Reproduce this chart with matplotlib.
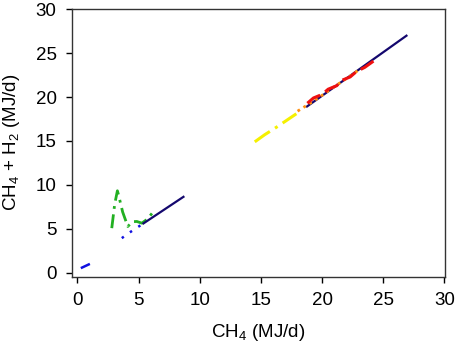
import matplotlib
matplotlib.use("Agg")
from matplotlib import pyplot as plt

plt.rcParams["font.family"] = ["Liberation Sans", "DejaVu Sans"]
plt.rcParams["font.size"] = 13.5
plt.rcParams["mathtext.fontset"] = "custom"
plt.rcParams["mathtext.rm"] = "Liberation Sans"
plt.rcParams["mathtext.default"] = "regular"

# series (CH4, CH4+H2), MJ/d
blue_dash_x = [0.28, 1.26]
blue_dash_y = [0.50, 1.14]

blue_dot_x = [3.63, 4.2, 4.8, 5.4]
blue_dot_y = [3.92, 4.5, 5.05, 5.6]

navy_low_x = [5.4, 8.67]
navy_low_y = [5.6, 8.63]

green_x = [2.81, 3.05, 3.27, 3.36, 3.7, 4.12, 4.5, 4.86, 5.27, 5.73, 6.22, 6.4]
green_y = [5.06, 7.8, 9.32, 8.86, 6.9, 5.25, 5.8, 5.82, 5.63, 6.1, 6.96, 6.77]

yellow_x = [14.5, 15.3, 16.2, 17.0, 17.9]
yellow_y = [14.9, 15.7, 16.5, 17.25, 18.1]

orange_x = [18.0, 18.4, 19.2, 20.0, 20.8, 21.6, 22.4, 23.0]
orange_y = [18.4, 18.75, 19.45, 20.2, 21.0, 21.75, 22.5, 23.1]

red_x = [18.8, 19.3, 20.0, 20.5, 21.2, 21.6, 22.3, 22.8, 23.5, 24.2]
red_y = [19.3, 19.9, 20.3, 20.9, 21.3, 21.9, 22.3, 22.9, 23.4, 24.1]

navy_high_x = [18.77, 26.9]
navy_high_y = [18.93, 27.0]

fig = plt.figure(figsize=(4.55, 3.44), dpi=100)
ax = fig.add_axes([0.158, 0.195, 0.82, 0.779])

ax.plot(blue_dash_x, blue_dash_y, color="#1010e0", linestyle=(0, (4, 2)), linewidth=1.8)
ax.plot(blue_dot_x, blue_dot_y, color="#1010e0", linestyle=(0, (1, 3)), linewidth=1.8)
ax.plot(green_x, green_y, color="#22b022", linestyle=(0, (5, 2, 1, 2)), linewidth=2)
ax.plot(navy_low_x, navy_low_y, color="#14086e", linewidth=1.6)
ax.plot(yellow_x, yellow_y, color="#f5f000", linestyle=(0, (6, 2, 1, 2)), linewidth=2.2)
ax.plot(navy_high_x, navy_high_y, color="#14086e", linewidth=1.6)
ax.plot(orange_x, orange_y, color="#ff9010", linestyle=(0, (1, 1.5)), linewidth=2)
ax.plot(red_x, red_y, color="#ee1010", linestyle=(0, (5, 2)), linewidth=2.2)

ax.set_xlim(-0.45, 30.05)
ax.set_ylim(-0.5, 30.05)
ax.set_xticks(range(0, 31, 5))
ax.set_yticks(range(0, 31, 5))
ax.tick_params(direction="out", length=4, width=1, top=False, right=False, pad=7)
for s in ax.spines.values():
    s.set_color("#333333")
    s.set_linewidth(1)

ax.set_xlabel("CH$_4$ (MJ/d)", labelpad=9)
ax.set_ylabel("CH$_4$ + H$_2$ (MJ/d)", labelpad=10)

fig.savefig("out.png", dpi=100)
